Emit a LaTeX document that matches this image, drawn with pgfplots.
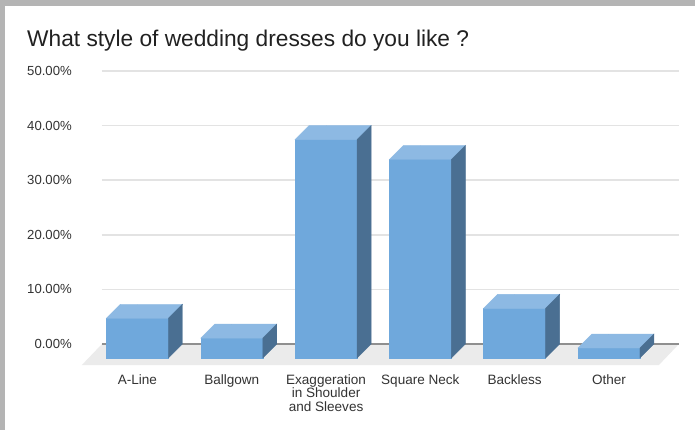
\documentclass[border=0pt]{standalone}
\usepackage{pgfplots}
\usepackage{pgfplotstable}
\pgfplotsset{compat=1.18}
\usepackage{fontspec}
\setmainfont{Liberation Sans}
\definecolor{frontblue}{HTML}{6FA8DC}
\definecolor{topblue}{HTML}{8DB9E3}
\definecolor{sideblue}{HTML}{4A6F92}
\definecolor{gridgray}{HTML}{E3E3E3}
\definecolor{floorgray}{HTML}{EBEBEB}
\definecolor{zerogray}{HTML}{8F8F8F}
\definecolor{framegray}{HTML}{B4B4B4}
\definecolor{textgray}{HTML}{333333}

\pgfplotstableread{
c v
0 7.27
1 3.64
2 40.00
3 36.36
4 9.09
5 1.82
}\datatable

\begin{document}
\begin{tikzpicture}
\fill[white] (-102bp,-65bp) rectangle (593bp,365bp);
\fill[framegray] (-102bp,359bp) rectangle (593bp,365bp);
\fill[framegray] (-102bp,-65bp) rectangle (-97bp,365bp);
\begin{axis}[
  at={(0,0)}, anchor=south west,
  x=94.3bp, y=5.46bp,
  xmin=-0.376, xmax=5.742,
  ymin=-3.85, ymax=50,
  clip=false,
  axis line style={draw=none},
  tick style={draw=none},
  ymajorgrids,
  grid style={gridgray, line width=1.5bp},
  ytick={0,10,20,30,40,50},
  yticklabels={0.00\%,10.00\%,20.00\%,30.00\%,40.00\%,50.00\%},
  yticklabel style={font=\fontsize{13.2}{15}\selectfont, text=textgray, anchor=east, inner sep=0pt, xshift=-30bp},
  xtick={0,1,2,3,4,5},
  xticklabels={A-Line, Ballgown, {Exaggeration\\in Shoulder\\and Sleeves}, Square Neck, Backless, Other},
  xticklabel style={align=center, font=\fontsize{13.6}{13.6}\selectfont, text=textgray, anchor=north, inner sep=0pt, yshift=-9bp},
]
% floor
\addplot[fill=floorgray, draw=none] coordinates {(-0.376,0) (5.742,0) (5.53,-3.85) (-0.589,-3.85)};
% zero line
\addplot[zerogray, line width=1.5bp] coordinates {(-0.376,0) (5.742,0)};
% 3D bars
\addplot[scatter, only marks, mark=*, mark size=0pt,
  visualization depends on={rawy \as \barval},
  scatter/@pre marker code/.code={%
    \pgfmathsetmacro{\hb}{-14-\barval*5.46}%
    \pgfmathsetmacro{\hc}{-\barval*5.46}%
    \fill[frontblue] (-31bp,\hb bp) rectangle (31bp,-14bp);
    \fill[topblue] (-31bp,-14bp) -- (31bp,-14bp) -- (45bp,0bp) -- (-17bp,0bp) -- cycle;
    \fill[sideblue] (31bp,-14bp) -- (45bp,0bp) -- (45bp,\hc bp) -- (31bp,\hb bp) -- cycle;
  },
  scatter/@post marker code/.code={},
] table[x=c, y=v] {\datatable};
\end{axis}
\node[anchor=base west, inner sep=0pt, font=\fontsize{22.8}{27}\selectfont, text=black!87] at (-75bp,318bp) {What style of wedding dresses do you like ?};
\pgfresetboundingbox
\path[use as bounding box] (-102bp,-65bp) rectangle (593bp,365bp);
\end{tikzpicture}
\end{document}
